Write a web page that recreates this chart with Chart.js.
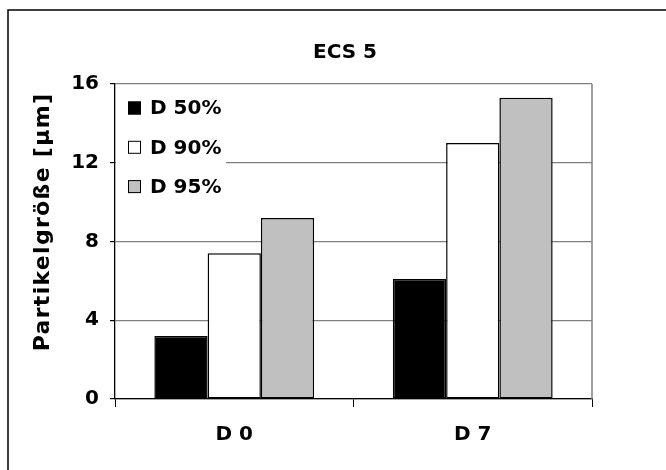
<!DOCTYPE html>
<html>
<head>
<meta charset="utf-8">
<script src="https://cdn.jsdelivr.net/npm/chart.js@4/dist/chart.umd.min.js"></script>
<style>
  html, body { margin: 0; padding: 0; background: #fff; }
  #wrap { width: 666px; height: 470px; }
</style>
</head>
<body>
<div id="wrap"><canvas id="ecsChart" width="666" height="470"></canvas></div>
<script>
// Chart data
const chartTitle = 'ECS 5';
const axisTitle = 'Partikelgröße [µm]';
const categories = ['D 0', 'D 7'];
const seriesNames = ['D 50%', 'D 90%', 'D 95%'];
const d50 = [3.2, 6.1];
const d90 = [7.4, 13.0];
const d95 = [9.2, 15.3];
const yTicks = [0, 4, 8, 12, 16];

const FAMILY = '"DejaVu Sans", Arial, sans-serif';
const FONT = { family: FAMILY, size: 20, weight: 'bold' };
const fontStr = (size) => `bold ${size}px ${FAMILY}`;

// Frame, title, axis title and right plot border
const framePlugin = {
  id: 'frame',
  beforeDraw(chart) {
    const ctx = chart.ctx;
    ctx.save();
    ctx.fillStyle = '#fff';
    ctx.fillRect(0, 0, chart.width, chart.height);
    ctx.strokeStyle = '#000';
    ctx.lineWidth = 1.5;
    ctx.beginPath();
    ctx.moveTo(8, chart.height + 5);
    ctx.lineTo(8, 10);
    ctx.lineTo(chart.width + 5, 10);
    ctx.stroke();
    ctx.restore();
  },
  beforeDatasetsDraw(chart) {
    const { ctx, chartArea } = chart;
    ctx.save();
    ctx.strokeStyle = '#808080';
    ctx.lineWidth = 1.5;
    ctx.beginPath();
    ctx.moveTo(chartArea.right, chartArea.top);
    ctx.lineTo(chartArea.right, chartArea.bottom);
    ctx.stroke();
    ctx.restore();
  },
  afterDraw(chart) {
    const ctx = chart.ctx;
    ctx.save();
    ctx.fillStyle = '#000';
    ctx.font = fontStr(20);
    ctx.textAlign = 'center';
    ctx.textBaseline = 'middle';
    ctx.fillText(chartTitle, 345, 53);
    ctx.font = fontStr(22);
    ctx.letterSpacing = '1.3px';
    ctx.translate(43, 222);
    ctx.rotate(-Math.PI / 2);
    ctx.fillText(axisTitle, 0, 0);
    ctx.restore();
  }
};

// Legend drawn inside the plot area, top left
const innerLegend = {
  id: 'innerLegend',
  afterDatasetsDraw(chart) {
    const { ctx, chartArea } = chart;
    const x0 = chartArea.left + 1;
    ctx.save();
    ctx.fillStyle = '#fff';
    ctx.fillRect(x0, chartArea.top + 6, 110, 116);
    ctx.font = fontStr(20);
    ctx.textBaseline = 'middle';
    chart.data.datasets.forEach((ds, i) => {
      const cy = chartArea.top + 24 + i * 39.3;
      ctx.fillStyle = ds.backgroundColor;
      ctx.fillRect(x0 + 12, cy - 6.5, 13, 13);
      ctx.strokeStyle = '#000';
      ctx.lineWidth = 1;
      ctx.strokeRect(x0 + 12.5, cy - 6, 12, 12);
      ctx.fillStyle = '#000';
      ctx.fillText(ds.label, x0 + 34, cy + 1);
    });
    ctx.restore();
  }
};

const colors = ['#000000', '#FFFFFF', '#C0C0C0'];
const seriesData = [d50, d90, d95];

new Chart(document.getElementById('ecsChart'), {
  type: 'bar',
  data: {
    labels: categories,
    datasets: seriesNames.map((name, i) => ({
      label: name,
      data: seriesData[i],
      backgroundColor: colors[i],
      borderColor: '#000',
      borderWidth: 1.5,
      borderSkipped: false,
      categoryPercentage: 0.67,
      barPercentage: 1.0
    }))
  },
  options: {
    responsive: false,
    animation: false,
    devicePixelRatio: 1,
    layout: { padding: { left: 0, top: 84, right: 74, bottom: 0 } },
    plugins: {
      legend: { display: false },
      title: { display: false },
      tooltip: { enabled: false }
    },
    scales: {
      x: {
        grid: { drawOnChartArea: false, color: '#000', tickLength: 8 },
        border: { color: '#000', width: 1.3 },
        ticks: { color: '#000', font: FONT, padding: 16 },
        afterFit: (scale) => { scale.height = 71; }
      },
      y: {
        min: 0,
        max: 16,
        afterBuildTicks: (scale) => { scale.ticks = yTicks.map(v => ({ value: v })); },
        grid: { color: '#808080', tickColor: '#000', tickLength: 5, lineWidth: 1.2 },
        border: { color: '#000', width: 1.3 },
        ticks: { color: '#000', font: FONT, padding: 11 },
        afterFit: (scale) => { scale.width = 115; }
      }
    }
  },
  plugins: [framePlugin, innerLegend]
});
</script>
</body>
</html>
